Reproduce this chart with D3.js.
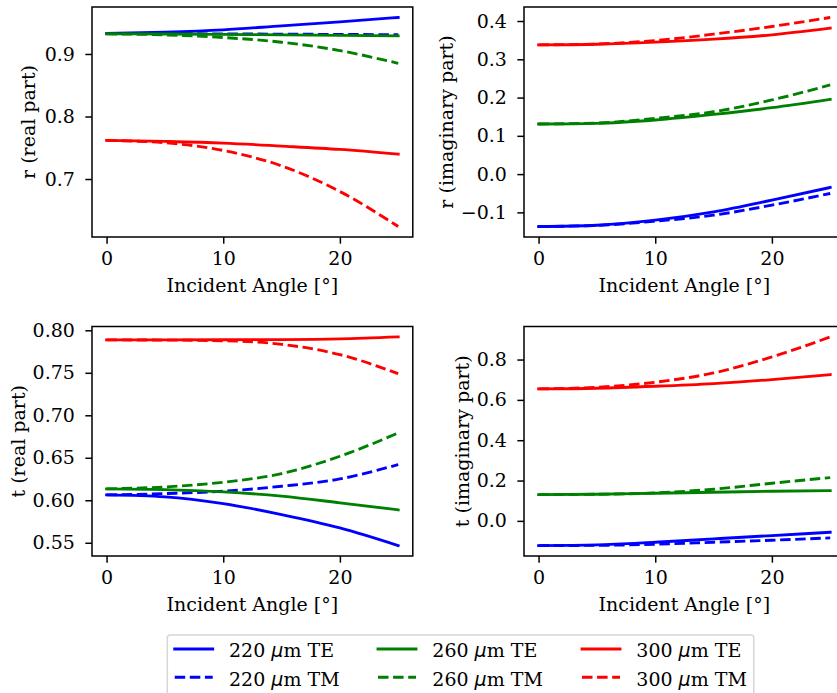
<!DOCTYPE html>
<html>
<head>
<meta charset="utf-8">
<script src="https://cdn.jsdelivr.net/npm/d3@7"></script>
<style>
  html, body { margin: 0; padding: 0; background: #fff; }
  svg { display: block; }
</style>
</head>
<body>
<div id="chart"></div>
<script>
// incident angle samples (degrees)
const angles = [0, 5, 10, 15, 20, 25]

// series order: 220 TE, 220 TM, 260 TE, 260 TM, 300 TE, 300 TM
const seriesNames = ['220 TE', '220 TM', '260 TE', '260 TM', '300 TE', '300 TM']

const rReal = [
  [0.9327, 0.9348, 0.9386, 0.9450, 0.9514, 0.9584],
  [0.9327, 0.9325, 0.9321, 0.9317, 0.9313, 0.9308],
  [0.9321, 0.9319, 0.9313, 0.9305, 0.9297, 0.9289],
  [0.9322, 0.9305, 0.9263, 0.9188, 0.9054, 0.8850],
  [0.7617, 0.7601, 0.7575, 0.7527, 0.7473, 0.7398],
  [0.7617, 0.7580, 0.7457, 0.7210, 0.6800, 0.6240]
]

const rImag = [
  [-0.137, -0.1335, -0.1204, -0.0986, -0.0680, -0.0349],
  [-0.137, -0.1340, -0.1230, -0.1073, -0.0811, -0.0506],
  [0.1309, 0.1326, 0.1414, 0.1560, 0.1735, 0.1953],
  [0.1309, 0.1335, 0.1457, 0.1630, 0.1937, 0.2330],
  [0.3377, 0.3394, 0.3447, 0.3525, 0.3639, 0.3813],
  [0.3377, 0.3400, 0.3490, 0.3657, 0.3857, 0.4093]
]

const tReal = [
  [0.6063, 0.6040, 0.5961, 0.5832, 0.5675, 0.5467],
  [0.6063, 0.6079, 0.6106, 0.6165, 0.6251, 0.6420],
  [0.6134, 0.6126, 0.6099, 0.6048, 0.5970, 0.5887],
  [0.6134, 0.6157, 0.6212, 0.6314, 0.6518, 0.6792],
  [0.7887, 0.7888, 0.7889, 0.7891, 0.7899, 0.7922],
  [0.7887, 0.7885, 0.7877, 0.7835, 0.7714, 0.7490]
]

const tImag = [
  [-0.1225, -0.1192, -0.1060, -0.0895, -0.0730, -0.0564],
  [-0.1225, -0.1215, -0.1159, -0.1060, -0.0961, -0.0845],
  [0.1304, 0.1320, 0.1370, 0.1420, 0.1469, 0.1502],
  [0.1304, 0.1320, 0.1387, 0.1569, 0.1866, 0.2147],
  [0.6544, 0.6577, 0.6676, 0.6808, 0.7007, 0.7255],
  [0.6544, 0.6627, 0.6875, 0.7338, 0.8130, 0.9122]
]

const xTicks = [0, 10, 20]
const rRealTicks = [0.7, 0.8, 0.9]
const rImagTicks = [-0.1, 0.0, 0.1, 0.2, 0.3, 0.4]
const tRealTicks = [0.55, 0.60, 0.65, 0.70, 0.75, 0.80]
const tImagTicks = [0.0, 0.2, 0.4, 0.6, 0.8]

const width = 837
const height = 693
const serif = '"DejaVu Serif"'
const fontSize = '19px'
const lw = 2.85
const tick = 6.65
const colors = ['#0000ff', '#0000ff', '#008000', '#008000', '#ff0000', '#ff0000']
const dashes = [null, '10.5,4.6', null, '10.5,4.6', null, '10.5,4.6']

const panels = [
  { values: rReal, ticks: rRealTicks, fmt: '.1f', label: 'r (real part)', left: 92, top: 7, h: 230, labelX: 35 },
  { values: rImag, ticks: rImagTicks, fmt: '.1f', label: 'r (imaginary part)', left: 524, top: 7, h: 230, labelX: 452.5 },
  { values: tReal, ticks: tRealTicks, fmt: '.2f', label: 't (real part)', left: 92, top: 326.5, h: 229.5, labelX: 24.5 },
  { values: tImag, ticks: tImagTicks, fmt: '.1f', label: 't (imaginary part)', left: 524, top: 326.5, h: 229.5, labelX: 469 }
]
const axW = 320.8

const svg = d3.select('#chart')
  .append('svg')
  .attr('width', width)
  .attr('height', height)

const minus = s => s.replace('-', '\u2212')

panels.forEach(p => {
  const g = svg.append('g')
    .attr('transform', `translate(${p.left}, ${p.top})`)

  const xScale = d3.scaleLinear()
    .domain([-1.25, 26.25])
    .range([0, axW])

  const [lo, hi] = d3.extent(p.values.flat())
  const pad = (hi - lo) * 0.05
  const yScale = d3.scaleLinear()
    .domain([lo - pad, hi + pad])
    .range([p.h, 0])

  const line = d3.line()
    .x((d, i) => xScale(angles[i]))
    .y(d => yScale(d))
    .curve(d3.curveMonotoneX)

  g.selectAll('path.series')
    .data(p.values)
    .join('path')
      .classed('series', true)
      .attr('d', line)
      .attr('fill', 'none')
      .attr('stroke', (d, i) => colors[i])
      .attr('stroke-width', lw)
      .attr('stroke-linecap', (d, i) => dashes[i] ? 'butt' : 'square')
      .attr('stroke-dasharray', (d, i) => dashes[i])

  const xAxis = g.append('g')
    .attr('transform', `translate(0, ${p.h})`)
    .call(d3.axisBottom(xScale).tickValues(xTicks).tickSize(tick).tickPadding(7.8))
  const yAxis = g.append('g')
    .call(d3.axisLeft(yScale).tickValues(p.ticks).tickSize(tick).tickPadding(10.5)
      .tickFormat(d => minus(d3.format(p.fmt)(d))))

  ;[xAxis, yAxis].forEach(a => {
    a.attr('font-family', null).attr('font-size', null)
    a.select('.domain').remove()
    a.selectAll('line').attr('stroke', '#000').attr('stroke-width', 1.5)
    a.selectAll('text')
      .attr('fill', '#000')
      .style('font-family', serif)
      .style('font-size', fontSize)
  })

  g.append('rect')
    .attr('width', axW)
    .attr('height', p.h)
    .attr('fill', 'none')
    .attr('stroke', '#000')
    .attr('stroke-width', 1.5)

  g.append('text')
    .attr('x', axW / 2)
    .attr('y', p.h + 54.7)
    .attr('text-anchor', 'middle')
    .style('font-family', serif)
    .style('font-size', fontSize)
    .text('Incident Angle [\u00b0]')

  svg.append('text')
    .attr('transform', `translate(${p.labelX}, ${p.top + p.h / 2}) rotate(-90)`)
    .attr('text-anchor', 'middle')
    .style('font-family', serif)
    .style('font-size', fontSize)
    .text(p.label)
})

// legend
const legend = svg.append('g')
  .attr('transform', 'translate(167.3, 635)')

legend.append('rect')
  .attr('width', 586.5)
  .attr('height', 72)
  .attr('rx', 3)
  .attr('fill', '#fff')
  .attr('fill-opacity', 0.8)
  .attr('stroke', '#d6d6d6')
  .attr('stroke-width', 1.5)

const colX = [7.4, 210.7, 414.7]
const rowY = [14, 42.3]

seriesNames.forEach((name, i) => {
  const col = Math.floor(i / 2)
  const row = i % 2
  const [thk, mode] = name.split(' ')
  const item = legend.append('g')
    .attr('transform', `translate(${colX[col]}, ${rowY[row]})`)
  item.append('line')
    .attr('x1', 0).attr('x2', 38)
    .attr('stroke', colors[i])
    .attr('stroke-width', lw)
    .attr('stroke-linecap', dashes[i] ? 'butt' : 'square')
    .attr('stroke-dasharray', dashes[i])
  const t = item.append('text')
    .attr('x', 54.3)
    .attr('dy', 8.3)
    .style('font-family', serif)
    .style('font-size', fontSize)
  t.append('tspan').text(thk + ' ')
  t.append('tspan')
    .style('font-family', '"DejaVu Sans"')
    .style('font-style', 'italic')
    .text('\u03bc')
  t.append('tspan').text('m ' + mode)
})
</script>
</body>
</html>
